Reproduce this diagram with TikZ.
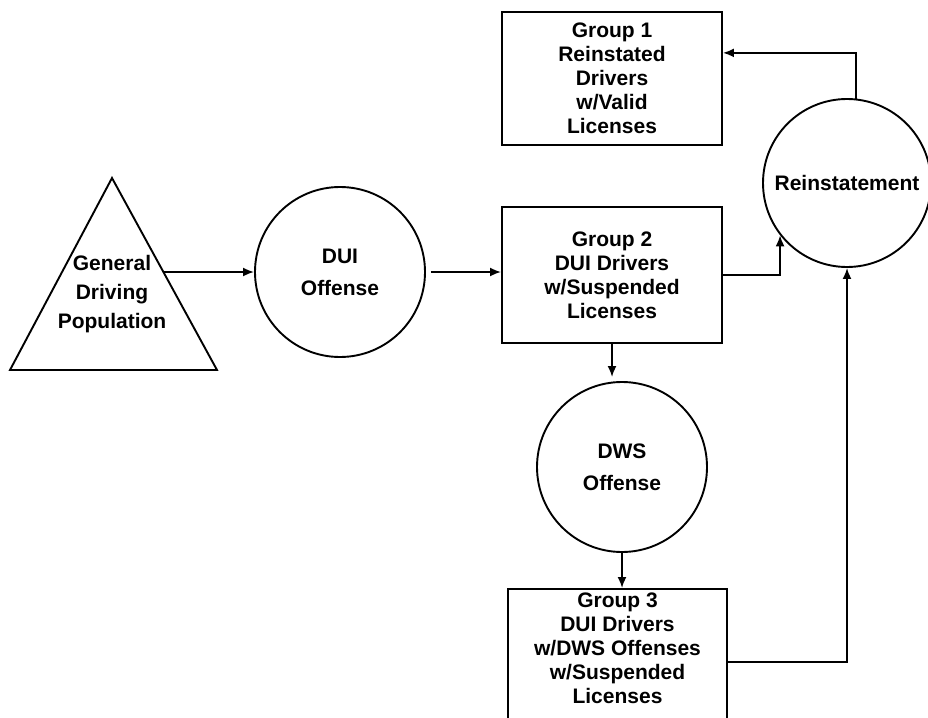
\documentclass[tikz,border=0pt]{standalone}
\usepackage{fontspec}
\setmainfont{Liberation Sans}
\usetikzlibrary{arrows.meta}
\begin{document}
\begin{tikzpicture}[x=1pt,y=-1pt,
  ln/.style={line width=1.9pt},
  arr/.style={ln,-{Latex[length=11pt,width=9pt]}},
  txt/.style={font=\fontsize{21}{24}\selectfont\bfseries, align=center},
  box/.style={draw,ln,minimum width=220pt,inner sep=0pt},
  circ/.style={draw,ln,circle,inner sep=0pt}]
\useasboundingbox (0,0) rectangle (928,717);
\clip (0,0) rectangle (928,717);
% triangle
\coordinate (tl) at (10,370);
\coordinate (tt) at (112,178);
\coordinate (tr) at (217,370);
\draw[ln,line join=miter] (tl) -- (tt) -- (tr) -- cycle;
\node[txt] (gen) at (112,294) {General\\[5pt]Driving\\[5pt]Population};
\coordinate (triR) at (163,272);
% boxes
\node[box,txt,minimum height=133pt] (g1) at (612,78.5) {Group 1\\Reinstated\\Drivers\\w/Valid\\Licenses};
\node[box,txt,minimum height=136pt] (g2) at (612,275) {Group 2\\DUI Drivers\\w/Suspended\\Licenses};
\node[box,minimum width=219pt,minimum height=146pt] (g3) at (617.5,662) {};
\node[txt] (g3t) at (617.5,648) {Group 3\\DUI Drivers\\w/DWS Offenses\\w/Suspended\\Licenses};
% circles
\node[circ,txt,minimum size=170pt] (dui) at (340,272) {DUI\\[8pt]Offense};
\node[circ,txt,minimum size=170pt] (dws) at (622,467) {DWS\\[8pt]Offense};
\node[circ,txt,minimum size=168pt] (rein) at (847,183) {Reinstatement};
% connectors
\draw[arr] (triR) -- (dui.west);
\draw[arr,shorten <=5pt] (dui.east) -- (dui.east -| g2.west);
\draw[arr] (g2.east) -| (rein.218);
\draw[arr] (rein.84) |- (g1.13.5);
\draw[arr,shorten >=4pt] (g2.south) -- (g2.south |- dws.north);
\draw[arr] (dws.south) -- (dws.south |- g3.north);
\draw[arr] (g3.east) -| (rein.south);
\end{tikzpicture}
\end{document}
